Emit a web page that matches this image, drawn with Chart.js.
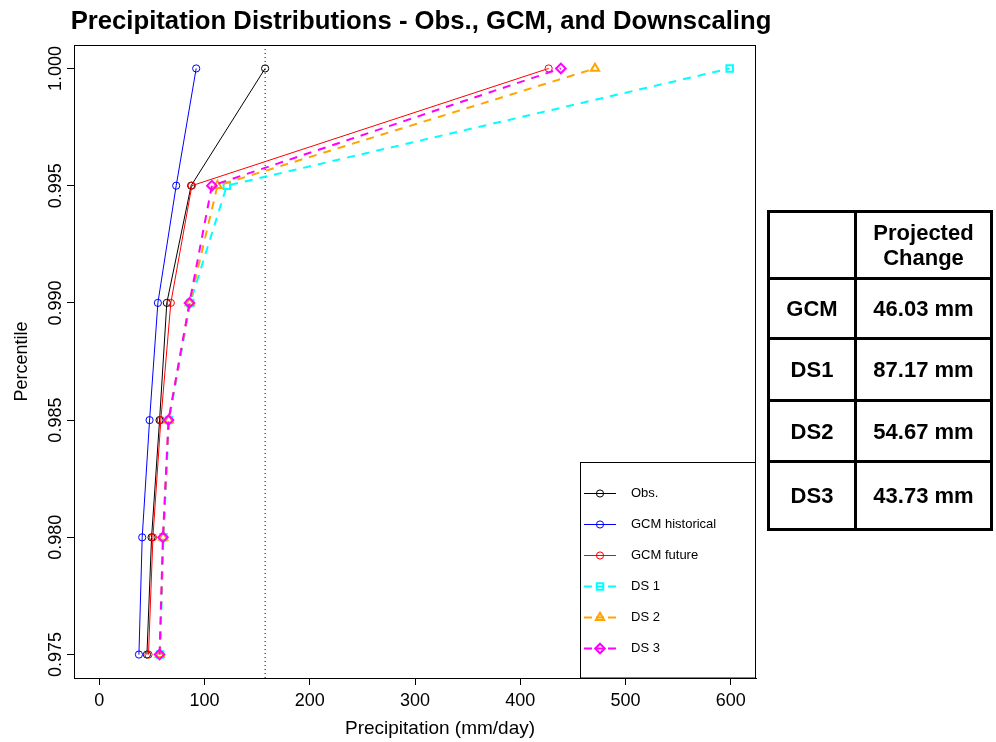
<!DOCTYPE html>
<html>
<head>
<meta charset="utf-8">
<script src="https://cdn.jsdelivr.net/npm/chart.js@4"></script>
<style>
  html, body { margin: 0; padding: 0; background: #fff; }
  #wrap { position: relative; width: 996px; height: 742px; }
  canvas { position: absolute; left: 0; top: 0; }
  table.chg {
    position: absolute; left: 767px; top: 210px; width: 223px;
    border-collapse: collapse; table-layout: fixed;
  }
  table.chg td {
    border: 3px solid #000; text-align: center; padding: 0;
    font: bold 22px "Liberation Sans", Arial, sans-serif; color: #000;
    line-height: 25px;
  }
</style>
</head>
<body>
<div id="wrap">
  <canvas id="c" width="996" height="742"></canvas>
  <table class="chg" id="tbl">
    <colgroup><col style="width:87px"><col style="width:136px"></colgroup>
  </table>
</div>
<script>
// ---- data ----
const percentiles = [0.975, 0.980, 0.985, 0.990, 0.995, 1.000];
const obs      = [45.3, 49.7, 57.3, 64.2, 87.3, 157.6];
const gcmHist  = [37.7, 40.8, 47.8, 55.7, 73.1, 92.1];
const gcmFut   = [46.8, 51.0, 58.5, 68.0, 88.0, 427.0];
const ds1      = [57.8, 61.0, 66.3, 86.4, 121.2, 599.0];
const ds2      = [57.5, 60.7, 66.0, 86.0, 112.3, 471.0];
const ds3      = [57.3, 60.5, 65.8, 85.7, 107.0, 438.6];
const seriesNames = ['Obs.', 'GCM historical', 'GCM future', 'DS 1', 'DS 2', 'DS 3'];
const xTicks = [0, 100, 200, 300, 400, 500, 600];
const yTicks = [0.975, 0.980, 0.985, 0.990, 0.995, 1.000];
const xRange = [-24, 624];
const yRange = [0.974, 1.001];
const tableHeader = ['', 'Projected\nChange'];
const tableRows = ['GCM', 'DS1', 'DS2', 'DS3'];
const tableChanges = [46.03, 87.17, 54.67, 43.73];

// ---- table ----
(function buildTable() {
  const tbl = document.getElementById('tbl');
  const heights = [67, 60, 62, 61, 68];
  const hr = document.createElement('tr');
  hr.style.height = heights[0] + 'px';
  tableHeader.forEach(h => {
    const td = document.createElement('td');
    td.innerHTML = h.split('\n').join('<br>');
    hr.appendChild(td);
  });
  tbl.appendChild(hr);
  tableRows.forEach((r, i) => {
    const tr = document.createElement('tr');
    tr.style.height = heights[i + 1] + 'px';
    const a = document.createElement('td'); a.textContent = r;
    const b = document.createElement('td'); b.textContent = tableChanges[i].toFixed(2) + ' mm';
    tr.appendChild(a); tr.appendChild(b);
    tbl.appendChild(tr);
  });
})();

// ---- chart ----
const FONT = '"Liberation Sans", Arial, sans-serif';
const toPts = arr => arr.map((v, i) => ({ x: v, y: percentiles[i] }));
const styles = [
  { color: '#000000', style: 'circle',   r: 3.6, w: 1, pw: 1, dash: [] },
  { color: '#0000FF', style: 'circle',   r: 3.6, w: 1, pw: 1, dash: [] },
  { color: '#FF0000', style: 'circle',   r: 3.6, w: 1, pw: 1, dash: [] },
  { color: '#00FFFF', style: 'rect',     r: 4.6, w: 2, pw: 2, dash: [8, 7] },
  { color: '#FFA500', style: 'triangle', r: 4.8, w: 2, pw: 2, dash: [8, 7] },
  { color: '#FF00FF', style: 'rectRot',  r: 4.8, w: 2, pw: 2, dash: [8, 7] }
];
const allSeries = [obs, gcmHist, gcmFut, ds1, ds2, ds3];
const datasets = allSeries.map((s, i) => ({
  label: seriesNames[i],
  data: toPts(s),
  showLine: true,
  borderColor: styles[i].color,
  backgroundColor: 'rgba(0,0,0,0)',
  borderWidth: styles[i].w,
  borderDash: styles[i].dash,
  pointStyle: styles[i].style,
  pointRadius: styles[i].r,
  pointBorderWidth: styles[i].pw,
  pointBorderColor: styles[i].color,
  pointBackgroundColor: 'rgba(0,0,0,0)',
  tension: 0,
  order: allSeries.length - i + 1
}));
const obsMax = obs[obs.length - 1];
datasets.push({
  label: 'obsmax',
  data: [{ x: obsMax, y: yRange[0] }, { x: obsMax, y: yRange[1] }],
  showLine: true,
  borderColor: '#000',
  borderWidth: 1,
  borderDash: [1, 3],
  pointRadius: 0,
  order: 100
});

const decor = {
  id: 'decor',
  beforeDraw(chart) {
    const ctx = chart.ctx;
    ctx.save(); ctx.fillStyle = '#fff'; ctx.fillRect(0, 0, chart.width, chart.height); ctx.restore();
  },
  afterDraw(chart) {
    const ctx = chart.ctx, a = chart.chartArea, ys = chart.scales.y;
    ctx.save();
    // frame
    ctx.strokeStyle = '#000'; ctx.lineWidth = 1;
    ctx.strokeRect(Math.round(a.left) + 0.5, Math.round(a.top) + 0.5,
                   Math.round(a.right - a.left) - 1, Math.round(a.bottom - a.top));
    // y tick labels (rotated, as in R)
    ctx.fillStyle = '#000';
    ctx.font = '18px ' + FONT;
    ctx.textAlign = 'center'; ctx.textBaseline = 'alphabetic';
    yTicks.forEach(v => {
      const py = ys.getPixelForValue(v);
      ctx.save(); ctx.translate(61, py); ctx.rotate(-Math.PI / 2);
      ctx.fillText(v.toFixed(3), 0, 0); ctx.restore();
    });
    // axis titles
    ctx.save(); ctx.translate(27, (a.top + a.bottom) / 2); ctx.rotate(-Math.PI / 2);
    ctx.fillText('Percentile', 0, 0); ctx.restore();
    ctx.font = '19px ' + FONT;
    ctx.fillText('Precipitation (mm/day)', 440, 734);
    // main title
    ctx.font = 'bold 25.7px ' + FONT;
    ctx.fillText('Precipitation Distributions - Obs., GCM, and Downscaling', 421, 29);
    // legend
    const lx = 580, ly = 462.5, lw = a.right - 580, lh = a.bottom - 462.5;
    ctx.fillStyle = '#fff'; ctx.fillRect(lx, ly, lw, lh);
    ctx.strokeStyle = '#000'; ctx.lineWidth = 1;
    ctx.strokeRect(lx + 0.5, ly, lw - 1, lh);
    ctx.font = '13px ' + FONT; ctx.textAlign = 'left'; ctx.textBaseline = 'middle';
    seriesNames.forEach((name, i) => {
      const st = styles[i];
      const yy = 493 + i * 31;
      ctx.strokeStyle = st.color; ctx.lineWidth = st.w === 1 ? 1 : 2;
      ctx.beginPath();
      if (st.dash.length) {
        ctx.setLineDash([8, 4]);
      } else ctx.setLineDash([]);
      ctx.moveTo(584, yy + 0.5); ctx.lineTo(616, yy + 0.5); ctx.stroke();
      ctx.setLineDash([]);
      ctx.lineWidth = st.pw;
      ctx.fillStyle = 'rgba(0,0,0,0)';
      Chart.helpers.drawPoint(ctx, { pointStyle: st.style, radius: st.r, rotation: 0, borderWidth: st.pw }, 600, yy + 0.5);
      ctx.fillStyle = '#000';
      ctx.fillText(name, 631, yy);
    });
    ctx.restore();
  }
};

new Chart(document.getElementById('c'), {
  type: 'scatter',
  data: { datasets },
  options: {
    responsive: false,
    animation: false,
    devicePixelRatio: 1,
    events: [],
    layout: { autoPadding: false, padding: { left: 0, top: 45, right: 240, bottom: 0 } },
    plugins: { legend: { display: false }, tooltip: { enabled: false }, title: { display: false } },
    scales: {
      x: {
        type: 'linear', min: xRange[0], max: xRange[1],
        afterBuildTicks: s => { s.ticks = xTicks.map(v => ({ value: v })); },
        afterFit: s => { s.height = 64; },
        grid: { drawOnChartArea: false, drawTicks: true, tickLength: 7, color: '#000', tickWidth: 1 },
        border: { display: true, color: '#000', width: 1 },
        ticks: { color: '#000', font: { family: FONT, size: 18 }, padding: 5, maxRotation: 0, minRotation: 0 }
      },
      y: {
        type: 'linear', min: yRange[0], max: yRange[1],
        afterBuildTicks: s => { s.ticks = yTicks.map(v => ({ value: v })); },
        afterFit: s => { s.width = 74; },
        grid: { drawOnChartArea: false, drawTicks: true, tickLength: 7, color: '#000', tickWidth: 1 },
        border: { display: true, color: '#000', width: 1 },
        ticks: { display: false }
      }
    }
  },
  plugins: [decor]
});
</script>
</body>
</html>
